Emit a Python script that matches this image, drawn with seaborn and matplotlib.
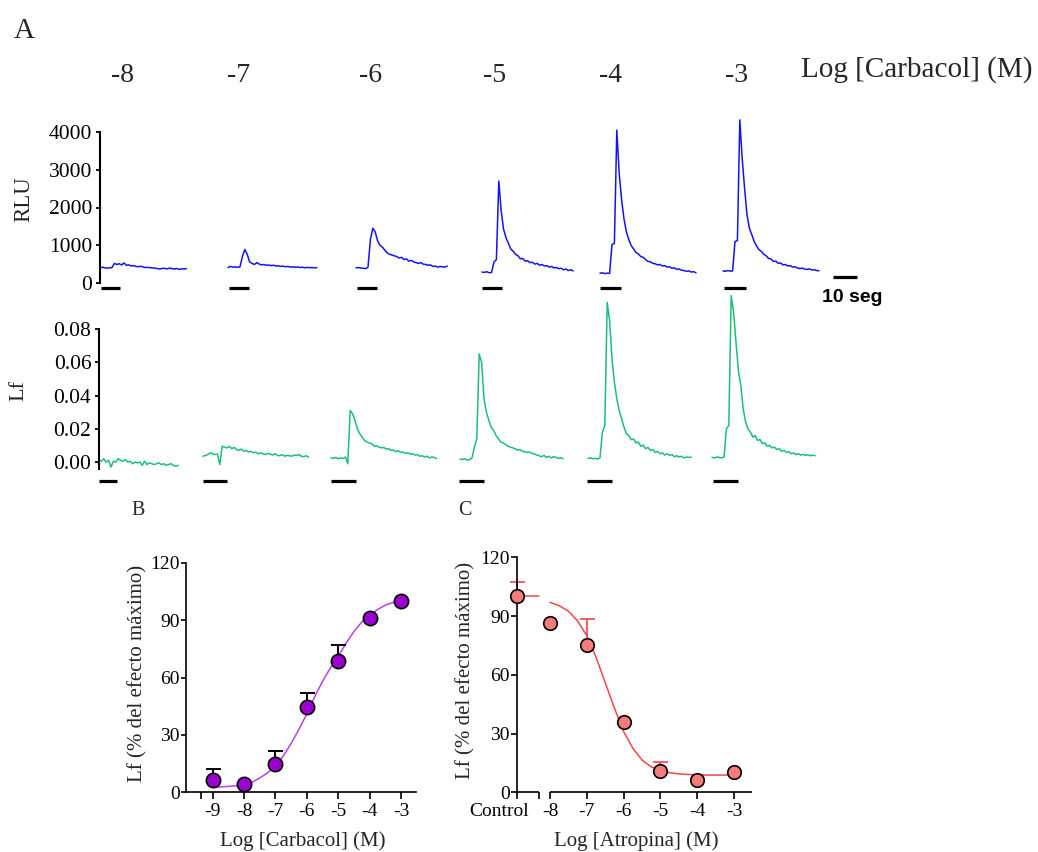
import numpy as np
import matplotlib
matplotlib.use("Agg")
import matplotlib.pyplot as plt
import matplotlib.transforms as mtransforms
import seaborn as sns

# ---------------- data ----------------
conc_labels = ["-8", "-7", "-6", "-5", "-4", "-3"]

# RLU traces (1 sample per second)
rlu_m8 = [390, 420, 400, 395, 400, 410, 520, 490, 510, 480, 530, 470, 480, 450, 460, 440, 430, 445, 420,
          410, 415, 405, 400, 395, 380, 370, 390, 385, 375, 395, 380, 370, 385, 360, 375, 370, 380]
rlu_m7 = [410, 440, 420, 425, 415, 430, 700, 890, 760, 560, 520, 490, 540, 500, 480, 490, 470, 475, 460,
          470, 450, 455, 440, 445, 430, 440, 420, 430, 415, 425, 410, 420, 400, 415, 405, 410, 400, 410]
rlu_m6 = [400, 410, 395, 390, 380, 420, 1150, 1450, 1350, 1120, 1000, 950, 870, 800, 760, 740, 720, 700,
          660, 680, 620, 640, 580, 600, 560, 540, 520, 540, 500, 490, 470, 480, 440, 450, 420, 440, 430, 420, 450]
rlu_m5 = [290, 280, 300, 270, 280, 560, 620, 2700, 1900, 1420, 1200, 1050, 900, 840, 760, 720, 640, 650,
          580, 590, 540, 550, 500, 520, 470, 490, 450, 460, 420, 440, 400, 410, 380, 390, 350, 370, 330, 350, 320]
rlu_m4 = [260, 270, 250, 260, 255, 1020, 1050, 4050, 2900, 2200, 1700, 1350, 1150, 990, 900, 810, 770, 700,
          680, 620, 570, 560, 520, 510, 480, 490, 450, 460, 420, 430, 390, 400, 360, 370, 340, 330, 310, 320,
          290, 300, 270]
rlu_m3 = [320, 310, 330, 315, 320, 1100, 1120, 4320, 3300, 2500, 1800, 1450, 1280, 1100, 980, 880, 840, 760,
          720, 650, 640, 570, 580, 520, 530, 480, 490, 450, 460, 420, 430, 400, 380, 395, 370, 360, 375, 345,
          350, 330, 325]

# Lf traces (1 sample per second)
lf_m8 = [0.001, 0.0005, 0.002, 0.000, 0.001, -0.003, 0.0005, 0.000, 0.002, 0.001, 0.0005, 0.0015, 0.000,
         0.0005, -0.001, 0.000, -0.0005, 0.000, -0.002, 0.0005, -0.0015, -0.0005, -0.001, -0.0015, -0.001,
         -0.0005, -0.0015, -0.001, -0.002, -0.0015, -0.001, -0.002, -0.0025, -0.002]
lf_m7 = [0.0035, 0.004, 0.0045, 0.0055, 0.005, 0.0045, 0.0048, -0.0015, 0.0095, 0.009, 0.0085, 0.0095, 0.008,
         0.0088, 0.0075, 0.007, 0.0078, 0.0065, 0.007, 0.006, 0.0065, 0.0055, 0.006, 0.005, 0.0055, 0.005,
         0.0045, 0.0052, 0.0048, 0.0042, 0.005, 0.004, 0.0038, 0.0045, 0.0035, 0.004, 0.0038, 0.0035, 0.0042,
         0.004, 0.0045, 0.0035, 0.0032, 0.0038, 0.003]
lf_m6 = [0.0025, 0.0022, 0.0028, 0.002, 0.0025, 0.0022, 0.003, -0.001, 0.031, 0.029, 0.025, 0.020, 0.017,
         0.015, 0.013, 0.012, 0.0115, 0.011, 0.0095, 0.0098, 0.009, 0.0085, 0.0088, 0.0078, 0.008, 0.007,
         0.0072, 0.0062, 0.0068, 0.0058, 0.006, 0.0052, 0.0055, 0.0048, 0.005, 0.0042, 0.0045, 0.0035, 0.0038,
         0.003, 0.0035, 0.0025, 0.003, 0.0028, 0.002]
lf_m5 = [0.0018, 0.0015, 0.002, 0.0012, 0.0015, 0.0025, 0.009, 0.014, 0.065, 0.060, 0.038, 0.030, 0.025,
         0.021, 0.019, 0.016, 0.014, 0.012, 0.0115, 0.0105, 0.0095, 0.009, 0.0085, 0.008, 0.0072, 0.0075,
         0.0065, 0.0062, 0.0058, 0.006, 0.0052, 0.0048, 0.0042, 0.0038, 0.0032, 0.004, 0.0028, 0.0035, 0.0025,
         0.0032, 0.0028, 0.0022, 0.0025, 0.002]
lf_m4 = [0.0022, 0.0025, 0.002, 0.0022, 0.0018, 0.0025, 0.018, 0.022, 0.096, 0.085, 0.062, 0.048, 0.038,
         0.031, 0.026, 0.021, 0.017, 0.016, 0.0135, 0.0138, 0.0115, 0.012, 0.0095, 0.0102, 0.008, 0.0088,
         0.007, 0.0075, 0.0058, 0.0065, 0.005, 0.0055, 0.0042, 0.005, 0.004, 0.0045, 0.0032, 0.0038, 0.003,
         0.0035, 0.0025, 0.003, 0.0028, 0.003]
lf_m3 = [0.0028, 0.0025, 0.003, 0.0028, 0.0025, 0.003, 0.020, 0.022, 0.100, 0.090, 0.072, 0.055, 0.046,
         0.032, 0.024, 0.020, 0.018, 0.015, 0.016, 0.013, 0.0135, 0.011, 0.0115, 0.0095, 0.010, 0.0085,
         0.009, 0.0075, 0.008, 0.0065, 0.007, 0.0058, 0.0062, 0.005, 0.0055, 0.0045, 0.005, 0.0042, 0.0046,
         0.004, 0.0044, 0.0038, 0.0041, 0.0038]

rlu_traces = [rlu_m8, rlu_m7, rlu_m6, rlu_m5, rlu_m4, rlu_m3]
lf_traces = [lf_m8, lf_m7, lf_m6, lf_m5, lf_m4, lf_m3]

# Panel B: carbachol concentration-response
carb_logc = [-9, -8, -7, -6, -5, -4, -3]
carb_mean = [6.4, 4.3, 14.6, 44.7, 68.6, 91.3, 100.0]
carb_sem = [5.6, 0.0, 7.1, 7.2, 8.4, 0.0, 0.0]
carb_fit_x = [-9, -8.75, -8.5, -8.25, -8, -7.75, -7.5, -7.25, -7, -6.75, -6.5, -6.25, -6,
              -5.75, -5.5, -5.25, -5, -4.75, -4.5, -4.25, -4, -3.75, -3.5, -3.25, -3]
carb_fit_y = [2.6, 2.8, 3.1, 3.4, 4.0, 5.2, 7.5, 10.2, 13.8, 19, 25.5, 33, 41,
              50, 58, 65, 71, 78, 84, 89, 92.5, 95.5, 97.8, 99.2, 100]

# Panel C: atropine inhibition
atr_control_mean = 100.0
atr_control_sem = 7.4
atr_logc = [-8, -7, -6, -5, -4, -3]
atr_mean = [86.6, 75.2, 36.0, 10.9, 6.4, 10.4]
atr_sem = [0.0, 13.1, 0.0, 4.7, 0.0, 0.0]
atr_fit_x = [-8, -7.75, -7.5, -7.25, -7, -6.75, -6.5, -6.25, -6, -5.75, -5.5, -5.25, -5,
             -4.75, -4.5, -4.25, -4, -3.75, -3.5, -3.25, -3]
atr_fit_y = [97.0, 95.3, 92.5, 87.5, 80, 69, 56, 43, 31, 22.5, 16.5, 13, 11,
             10, 9.4, 9.1, 8.9, 8.8, 8.8, 8.8, 8.8]

# ---------------- style ----------------
sns.set_style("white")
plt.rcParams["font.family"] = ["Liberation Serif", "DejaVu Serif"]

BLUE = "#1414F0"
GREEN = "#1CBF78"
PURPLE = "#9B00D0"
PURPLE_LINE = "#B444E6"
SALMON = "#F47C7C"
RED_LINE = "#F04646"

W, H = 1038, 852
PX_PER_S = 2.4

fig = plt.figure(figsize=(W / 100, H / 100), dpi=100)


def rect(l, t, r, b):
    return [l / W, 1 - b / H, (r - l) / W, (b - t) / H]


def ftext(x, y, s, **kw):
    fig.text(x / W, 1 - y / H, s, **kw)


def trace_row(traces, lefts, top, bottom, ylim, color, ticks, fmt, bars, bar_y):
    axes = []
    for i, (vals, left) in enumerate(zip(traces, lefts)):
        ax = fig.add_axes(rect(left, top, left + 46 * PX_PER_S, bottom))
        ax.patch.set_alpha(0)
        t = np.arange(len(vals))
        sns.lineplot(x=t, y=vals, ax=ax, color=color, lw=1.1, estimator=None, sort=False)
        for ln in ax.lines:
            ln.set_clip_on(False)
        ax.set_xlim(0, 46)
        ax.set_ylim(*ylim)
        b0, b1 = bars[i]
        ax.hlines(bar_y, b0, b1, color="black", lw=2.3, clip_on=False)
        if i == 0:
            for s in ["top", "right", "bottom"]:
                ax.spines[s].set_visible(False)
            ax.spines["left"].set_linewidth(1.5)
            ax.spines["left"].set_color("black")
            ax.set_xticks([])
            ax.set_yticks(ticks)
            ax.set_yticklabels([fmt(v) for v in ticks])
            ax.tick_params(axis="y", direction="out", length=3, width=1.3, pad=2.5,
                           labelsize=15.5, left=True, colors="black")
            ax.set_xlabel("")
            ax.set_ylabel("")
        else:
            ax.axis("off")
        axes.append(ax)
    return axes


rlu_axes = trace_row(rlu_traces, [100, 228, 356, 482, 600, 723], 132, 283, (0, 4000), BLUE,
                     [0, 1000, 2000, 3000, 4000], lambda v: f"{v:d}",
                     [(0.4, 8.3), (0.4, 8.8), (0.4, 8.8), (0.0, 8.4), (0.0, 8.8), (0.4, 9.5)], -130)
lf_axes = trace_row(lf_traces, [99, 203, 331, 460, 588, 712], 329, 468.7, (-0.004, 0.08), GREEN,
                    [0.0, 0.02, 0.04, 0.06, 0.08], lambda v: f"{v:.2f}",
                    [(0.0, 7.5), (0.0, 10), (0.0, 10.3), (-0.4, 10), (-0.4, 10), (0.4, 10.8)], -0.0114)

# scale bar (10 s)
rlu_axes[-1].hlines(159, 45.8, 45.8 + 10, color="black", lw=2.3, clip_on=False)
ftext(822, 302, "10 seg", fontsize=14, fontweight="bold", color="black",
      family=["Liberation Sans", "DejaVu Sans"], ha="left", va="baseline")

# row labels
ftext(24, 199, "RLU", fontsize=16.5, rotation=90, ha="center", va="center")
ftext(19, 390, "Lf", fontsize=16, rotation=90, ha="center", va="center")

# top concentration labels
for lab, xc in zip(conc_labels, [122, 239, 371, 495, 611, 737]):
    ftext(xc, 82, lab, fontsize=20, ha="center", va="baseline")
ftext(800.7, 77, "Log [Carbacol] (M)", fontsize=21, ha="left", va="baseline")

# panel letters
ftext(14, 38, "A", fontsize=21, ha="left", va="baseline")
ftext(131, 515, "B", fontsize=14.5, ha="left", va="baseline")
ftext(458, 515, "C", fontsize=14.5, ha="left", va="baseline")

# ---------------- panel B ----------------
axB = fig.add_axes(rect(186, 562.7, 416, 792.3))
axB.patch.set_alpha(0)
sns.lineplot(x=carb_fit_x, y=carb_fit_y, ax=axB, color=PURPLE_LINE, lw=1.1, estimator=None, sort=False)
cx = np.array(carb_logc, float)
cm = np.array(carb_mean)
cs = np.array(carb_sem)
mask = cs > 0
axB.errorbar(cx[mask], cm[mask], yerr=[np.zeros(mask.sum()), cs[mask]], fmt="none", ecolor="black",
             elinewidth=1.4, capsize=5.4, capthick=1.4, zorder=2)
sns.scatterplot(x=carb_logc, y=carb_mean, ax=axB, s=105, color=PURPLE, edgecolor="black",
                linewidth=1.2, zorder=3, clip_on=False)
axB.set_xlim(-9.851, -2.522)
axB.set_ylim(0, 120)
axB.set_yticks([0, 30, 60, 90, 120])
axB.set_xticks([-9.373] + carb_logc)
axB.set_xticklabels([""] + [str(v) for v in carb_logc])
for s in ["top", "right"]:
    axB.spines[s].set_visible(False)
for s in ["left", "bottom"]:
    axB.spines[s].set_linewidth(1.2)
    axB.spines[s].set_color("black")
axB.tick_params(axis="x", direction="out", length=5, width=1.2, pad=3, labelsize=14, bottom=True, colors="black")
axB.tick_params(axis="y", direction="out", length=3.5, width=1.2, pad=1, labelsize=14, left=True, colors="black")
axB.set_xlabel("")
axB.set_ylabel("")
ftext(137.5, 673, "Lf (% del efecto máximo)", fontsize=15, rotation=90, ha="center", va="center")
ftext(302.5, 846, "Log [Carbacol] (M)", fontsize=15, ha="center", va="baseline")

# ---------------- panel C ----------------
CTRL_X = -8.889
BREAK_X = -8.29
axC = fig.add_axes(rect(517.3, 557.3, 751.7, 792.3))
axC.patch.set_alpha(0)
sns.lineplot(x=atr_fit_x, y=atr_fit_y, ax=axC, color=RED_LINE, lw=1.1, estimator=None, sort=False)
axC.plot([CTRL_X, BREAK_X], [atr_control_mean, atr_control_mean], color=RED_LINE, lw=1.1)
ax_x = np.array([CTRL_X] + atr_logc)
ax_m = np.array([atr_control_mean] + atr_mean)
ax_s = np.array([atr_control_sem] + atr_sem)
mask = ax_s > 0
axC.errorbar(ax_x[mask], ax_m[mask], yerr=[np.zeros(mask.sum()), ax_s[mask]], fmt="none", ecolor=RED_LINE,
             elinewidth=1.2, capsize=5.4, capthick=1.2, zorder=2, clip_on=False)
sns.scatterplot(x=ax_x, y=ax_m, ax=axC, s=95, color=SALMON, edgecolor="black", linewidth=1.2,
                zorder=3, clip_on=False)
axC.set_xlim(CTRL_X, -2.52)
axC.set_ylim(0, 120)
axC.set_yticks([0, 30, 60, 90, 120])
axC.set_xticks([CTRL_X, BREAK_X] + atr_logc)
axC.set_xticklabels(["Control", ""] + [str(v) for v in atr_logc])
for s in ["top", "right", "bottom"]:
    axC.spines[s].set_visible(False)
axC.spines["left"].set_linewidth(1.2)
axC.spines["left"].set_color("black")
trans = mtransforms.blended_transform_factory(axC.transData, axC.transAxes)
axC.plot([CTRL_X, BREAK_X], [0, 0], transform=trans, color="black", lw=1.2, clip_on=False,
         solid_capstyle="butt")
axC.plot([-8, -2.52], [0, 0], transform=trans, color="black", lw=1.2, clip_on=False, solid_capstyle="butt")
axC.tick_params(axis="x", direction="out", length=5, width=1.2, pad=3, labelsize=14, bottom=True, colors="black")
axC.tick_params(axis="y", direction="out", length=4, width=1.2, pad=1.5, labelsize=14, left=True, colors="black")
lab0 = axC.get_xticklabels()[0]
lab0.set_transform(lab0.get_transform() + mtransforms.ScaledTranslation(-18 / 100, 0, fig.dpi_scale_trans))
axC.set_xlabel("")
axC.set_ylabel("")
ftext(466, 670, "Lf (% del efecto máximo)", fontsize=15, rotation=90, ha="center", va="center")
ftext(636.7, 846, "Log [Atropina] (M)", fontsize=15, ha="center", va="baseline")

fig.savefig("out.png", dpi=100, facecolor="white")
